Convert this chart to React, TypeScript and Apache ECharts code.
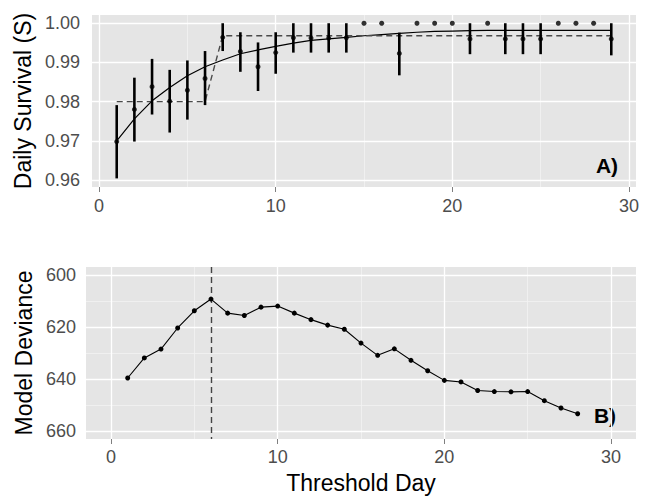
import React, { useEffect, useRef } from "react";
import * as echarts from "echarts";

// ---- Panel A: daily survival estimates ----
const survDays = [1, 2, 3, 4, 5, 6, 7, 8, 9, 10, 11, 12, 13, 14, 17, 21, 23, 24, 25, 29];
const survEst = [0.9698, 0.978, 0.9838, 0.9801, 0.9829, 0.9859, 0.9964, 0.9928, 0.9889, 0.9925, 0.9963, 0.9962, 0.9962, 0.9963, 0.9923, 0.996, 0.996, 0.996, 0.996, 0.996];
const survLow = [0.9604, 0.9698, 0.9767, 0.9721, 0.9754, 0.9791, 0.9929, 0.9876, 0.9827, 0.9871, 0.9925, 0.9925, 0.9925, 0.9925, 0.9867, 0.9921, 0.9921, 0.9921, 0.9921, 0.9918];
const survHigh = [0.9791, 0.9861, 0.9909, 0.9881, 0.9905, 0.9929, 1.0, 0.9977, 0.9951, 0.9977, 1.0, 1.0, 1.0, 1.0, 0.9976, 1.0, 1.0, 1.0, 1.0, 1.0];
const perfectDays = [15, 16, 18, 19, 20, 22, 26, 27, 28];
const perfectVals = [1.0, 1.0, 1.0, 1.0, 1.0, 1.0, 1.0, 1.0, 1.0];
const fitDays = [1, 2, 3, 4, 5, 6, 7, 8, 9, 10, 11, 12, 13, 14, 15, 16, 17, 18, 19, 20, 21, 22, 23, 24, 25, 26, 27, 28, 29];
const fitVals = [0.97, 0.9756, 0.9802, 0.9836, 0.9866, 0.9889, 0.9906, 0.9922, 0.9932, 0.9941, 0.9949, 0.9956, 0.996, 0.9964, 0.9968, 0.9971, 0.9974, 0.9977, 0.9979, 0.998, 0.9981, 0.9982, 0.9982, 0.9982, 0.9982, 0.9982, 0.9982, 0.9982, 0.9982];
const stepDays = [1, 6, 7, 29];
const stepVals = [0.98, 0.98, 0.9968, 0.9968];

// ---- Panel B: model deviance ----
const devDays = [1, 2, 3, 4, 5, 6, 7, 8, 9, 10, 11, 12, 13, 14, 15, 16, 17, 18, 19, 20, 21, 22, 23, 24, 25, 26, 27, 28];
const devVals = [639.6, 631.9, 628.5, 620.4, 613.8, 609.3, 614.7, 615.6, 612.4, 612.0, 614.7, 617.2, 619.3, 620.9, 626.2, 630.9, 628.4, 632.8, 636.8, 640.5, 641.1, 644.4, 644.8, 644.9, 644.8, 648.3, 651.1, 653.3];
const thresholdDay = 6;

// ---- ticks / grid ----
const xTicks = [0, 10, 20, 30];
const xMinor = [5, 15, 25];
const survTicks = [0.96, 0.97, 0.98, 0.99, 1.0];
const survMinor = [0.965, 0.975, 0.985, 0.995];
const devTicks = [600, 620, 640, 660];
const devMinor = [610, 630, 650];

const FONT = "Liberation Sans, Arial, Helvetica, sans-serif";
const TICK_COLOR = "#4d4d4d";

function gridLines(xMaj: number[], xMin: number[], yMaj: number[], yMin: number[]) {
  const minorStyle = { color: "#f2f2f2", width: 0.8, type: "solid" };
  const majorStyle = { color: "#ffffff", width: 1.3, type: "solid" };
  return [
    ...xMin.map((v) => ({ xAxis: v, lineStyle: minorStyle })),
    ...yMin.map((v) => ({ yAxis: v, lineStyle: minorStyle })),
    ...xMaj.map((v) => ({ xAxis: v, lineStyle: majorStyle })),
    ...yMaj.map((v) => ({ yAxis: v, lineStyle: majorStyle })),
  ];
}

export default function App() {
  const ref = useRef<HTMLDivElement>(null);

  useEffect(() => {
    if (!ref.current) return;
    const chart = echarts.init(ref.current, undefined, { renderer: "svg" });

    const axisTick = (vals: number[]) => ({
      show: true,
      length: 5,
      customValues: vals,
      lineStyle: { color: "#7f7f7f", width: 1 },
    });

    const option: any = {
      animation: false,
      backgroundColor: "#ffffff",
      textStyle: { fontFamily: FONT },
      grid: [
        { left: 92, top: 15, width: 544, height: 172, show: true, backgroundColor: "#e5e5e5", borderWidth: 0 },
        { left: 86, top: 267, width: 550, height: 172, show: true, backgroundColor: "#e5e5e5", borderWidth: 0 },
      ],
      xAxis: [
        {
          type: "value",
          gridIndex: 0,
          min: -0.4,
          max: 30.4,
          axisLine: { show: false },
          splitLine: { show: false },
          axisTick: axisTick(xTicks),
          axisLabel: { customValues: xTicks, color: TICK_COLOR, fontSize: 18, margin: 10, fontFamily: FONT },
        },
        {
          type: "value",
          gridIndex: 1,
          min: -1.5,
          max: 31.5,
          name: "Threshold Day",
          nameLocation: "middle",
          nameGap: 32,
          nameTextStyle: { fontSize: 23, color: "#000", fontFamily: FONT },
          axisLine: { show: false },
          splitLine: { show: false },
          axisTick: axisTick(xTicks),
          axisLabel: { customValues: xTicks, color: TICK_COLOR, fontSize: 18, margin: 9, fontFamily: FONT },
        },
      ],
      yAxis: [
        {
          type: "value",
          gridIndex: 0,
          min: 0.9582,
          max: 1.0021,
          name: "Daily Survival (S)",
          nameLocation: "middle",
          nameGap: 44,
          nameTextStyle: { fontSize: 23, color: "#000", fontFamily: FONT },
          axisLine: { show: false },
          splitLine: { show: false },
          axisTick: axisTick(survTicks),
          axisLabel: {
            customValues: survTicks,
            color: TICK_COLOR,
            fontSize: 18,
            margin: 12,
            fontFamily: FONT,
            formatter: (v: number) => v.toFixed(2),
          },
        },
        {
          type: "value",
          gridIndex: 1,
          min: 597,
          max: 663,
          inverse: true,
          name: "Model Deviance",
          nameLocation: "middle",
          nameGap: 38,
          nameTextStyle: { fontSize: 23, color: "#000", fontFamily: FONT },
          axisLine: { show: false },
          splitLine: { show: false },
          axisTick: axisTick(devTicks),
          axisLabel: { customValues: devTicks, color: TICK_COLOR, fontSize: 18, margin: 10, fontFamily: FONT },
        },
      ],
      series: [
        {
          name: "fit",
          type: "line",
          xAxisIndex: 0,
          yAxisIndex: 0,
          z: 3,
          data: fitDays.map((d, i) => [d, fitVals[i]]),
          showSymbol: false,
          symbol: "none",
          lineStyle: { color: "#000", width: 1.2 },
          markLine: {
            silent: true,
            z: 1,
            symbol: ["none", "none"],
            label: { show: false },
            data: gridLines(xTicks, xMinor, survTicks, survMinor),
          },
        },
        {
          name: "step",
          type: "line",
          xAxisIndex: 0,
          yAxisIndex: 0,
          z: 3,
          data: stepDays.map((d, i) => [d, stepVals[i]]),
          symbol: "none",
          lineStyle: { color: "#4a4a4a", width: 1.4, type: [6, 4] },
        },
        {
          name: "ci",
          type: "custom",
          xAxisIndex: 0,
          yAxisIndex: 0,
          z: 4,
          data: survDays.map((d, i) => [d, survLow[i], survHigh[i]]),
          renderItem: (params: any, api: any) => {
            const p1 = api.coord([api.value(0), api.value(1)]);
            const p2 = api.coord([api.value(0), api.value(2)]);
            return {
              type: "line",
              shape: { x1: p1[0], y1: p1[1], x2: p2[0], y2: p2[1] },
              style: { stroke: "#000", lineWidth: 2.6 },
            };
          },
        },
        {
          name: "est",
          type: "scatter",
          xAxisIndex: 0,
          yAxisIndex: 0,
          z: 5,
          symbolSize: 5,
          itemStyle: { color: "#000" },
          data: survDays.map((d, i) => [d, survEst[i]]),
        },
        {
          name: "perfect",
          type: "scatter",
          xAxisIndex: 0,
          yAxisIndex: 0,
          z: 5,
          symbolSize: 5,
          itemStyle: { color: "#000" },
          data: perfectDays.map((d, i) => [d, perfectVals[i]]),
        },
        {
          name: "deviance",
          type: "line",
          xAxisIndex: 1,
          yAxisIndex: 1,
          z: 4,
          data: devDays.map((d, i) => [d, devVals[i]]),
          symbol: "circle",
          symbolSize: 5,
          itemStyle: { color: "#000" },
          lineStyle: { color: "#000", width: 1.1 },
          markLine: {
            silent: true,
            z: 1,
            symbol: ["none", "none"],
            label: { show: false },
            data: [
              ...gridLines(xTicks, xMinor, devTicks, devMinor),
              { xAxis: thresholdDay, lineStyle: { color: "#444", width: 1.4, type: [6, 4] } },
            ],
          },
        },
      ],
      graphic: [
        {
          type: "text",
          x: 607,
          y: 165,
          style: { text: "A)", font: `bold 21px ${FONT}`, fill: "#000", textAlign: "center", textVerticalAlign: "middle" },
        },
        {
          type: "text",
          x: 605,
          y: 415,
          style: { text: "B)", font: `bold 21px ${FONT}`, fill: "#000", textAlign: "center", textVerticalAlign: "middle" },
        },
      ],
    };

    chart.setOption(option);
    return () => chart.dispose();
  }, []);

  return (
    <div
      ref={ref}
      style={{ position: "fixed", left: 0, top: 0, width: 649, height: 497, background: "#fff" }}
    />
  );
}
